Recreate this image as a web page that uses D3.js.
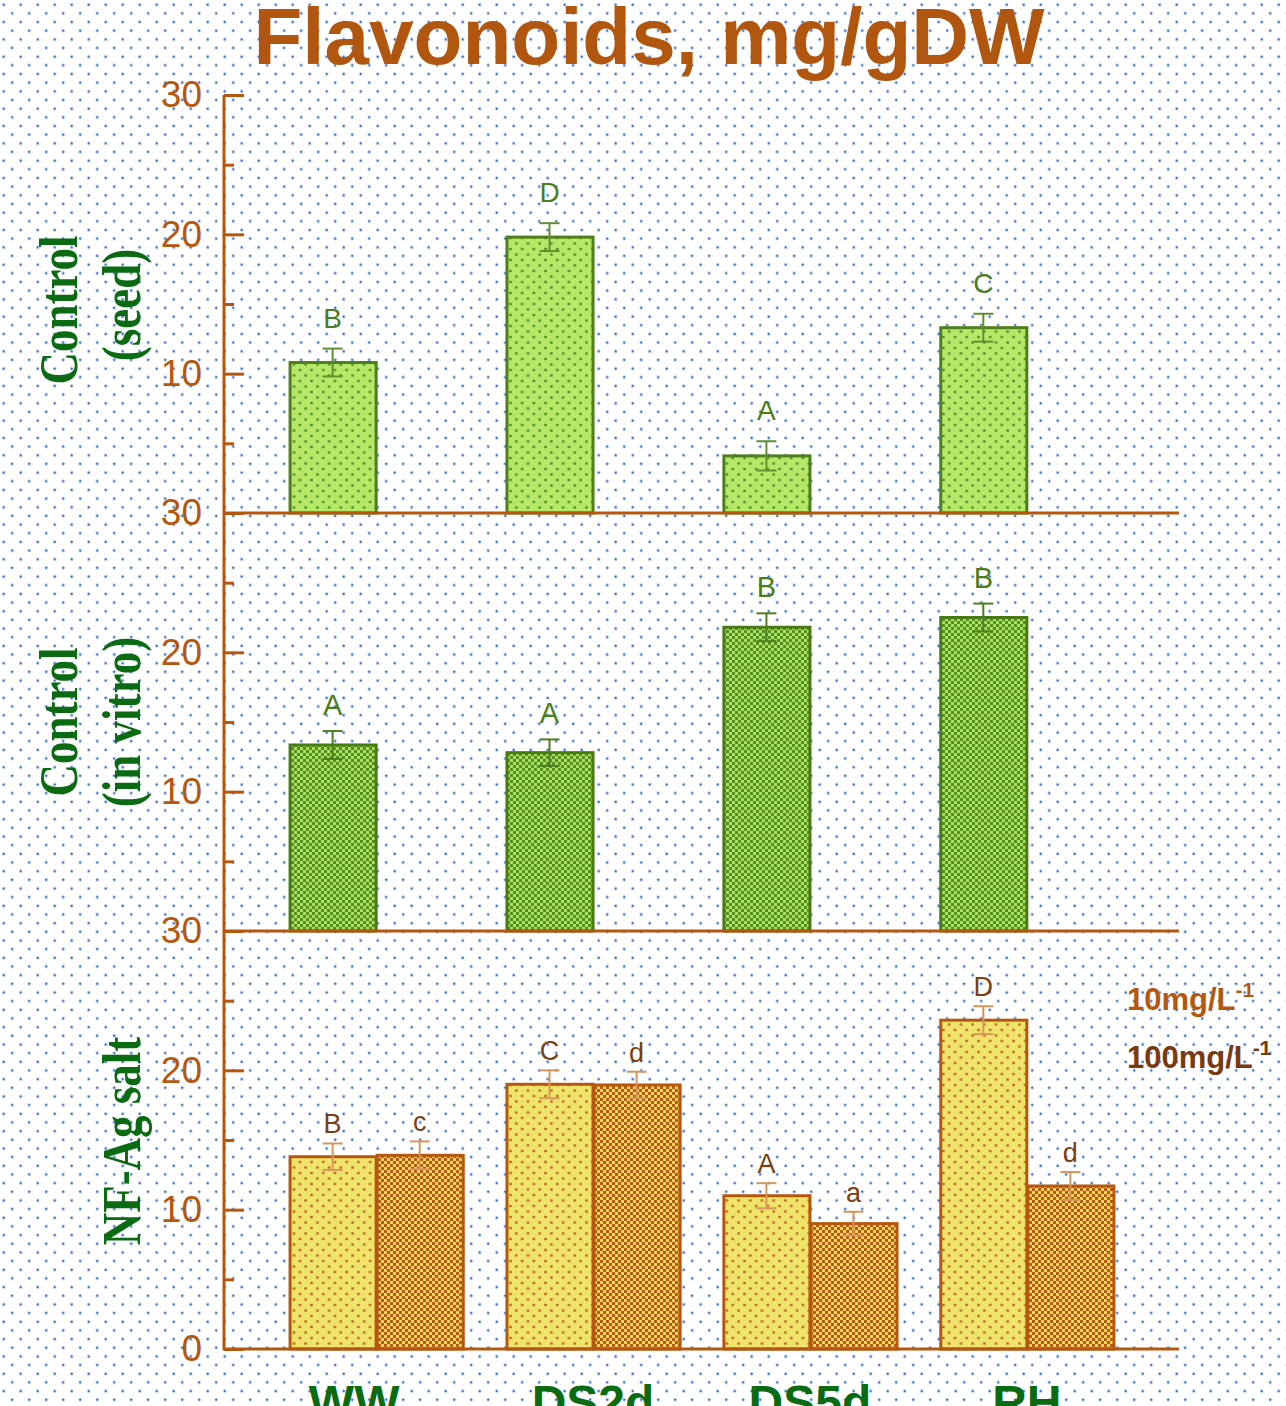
<!DOCTYPE html>
<html>
<head>
<meta charset="utf-8">
<script src="https://cdn.jsdelivr.net/npm/d3@7"></script>
<style>
  html, body { margin: 0; padding: 0; background: #ffffff; }
  svg { display: block; }
</style>
</head>
<body>
<svg id="chart" width="1286" height="1406"></svg>
<script>
// ---- data ----
const categories = ["WW", "DS2d", "DS5d", "RH"];

const seedValues  = [10.8, 19.8, 4.1, 13.3];
const seedErrors  = [1.0, 1.0, 1.05, 1.0];
const seedLetters = ["B", "D", "A", "C"];

const vitroValues  = [13.35, 12.8, 21.8, 22.5];
const vitroErrors  = [1.0, 0.95, 1.0, 1.0];
const vitroLetters = ["A", "A", "B", "B"];

const salt10Values   = [13.8, 19.0, 11.0, 23.6];
const salt10Errors   = [0.95, 1.0, 0.9, 1.0];
const salt10Letters  = ["B", "C", "A", "D"];
const salt100Values  = [13.9, 18.95, 9.0, 11.7];
const salt100Errors  = [1.0, 0.95, 0.85, 1.0];
const salt100Letters = ["c", "d", "a", "d"];

const doses = ["10mg/L", "100mg/L"];
const majorTicks = [0, 10, 20, 30];
const minorTicks = [5, 15, 25];
const titleText = "Flavonoids, mg/gDW";

// ---- layout ----
const svg = d3.select("#chart");
const W = 1286, H = 1406;
const axisX = 224, axisRight = 1179;
const panelTops = [95, 513, 931];
const panelH = 418;
const brown = "#b5580f";
const labelGreen = "#0b6b12";

const defs = svg.append("defs");

// dotted page background
const bg = defs.append("pattern").attr("id", "bgDots")
  .attr("patternUnits", "userSpaceOnUse").attr("width", 17).attr("height", 17.33);
bg.append("rect").attr("width", 17).attr("height", 17.33).attr("fill", "#ffffff");
[[3.7, 4.7], [12.2, 13.3]].forEach(([cx, cy]) => {
  bg.append("circle").attr("cx", cx).attr("cy", cy).attr("r", 1.9).attr("fill", "#c9d7f2");
  bg.append("circle").attr("cx", cx).attr("cy", cy).attr("r", 1.1).attr("fill", "#3a6bc8");
});

// dotted bar fill
function dotPattern(id, base, dot) {
  const p = defs.append("pattern").attr("id", id)
    .attr("patternUnits", "userSpaceOnUse").attr("width", 11.7).attr("height", 11);
  p.append("rect").attr("width", 11.7).attr("height", 11).attr("fill", base);
  [[1.5, 1.5], [7.35, 7]].forEach(([x, y]) => {
    p.append("rect").attr("x", x - 1.2).attr("y", y - 1.2)
      .attr("width", 2.4).attr("height", 2.4).attr("fill", dot);
  });
}
// fine checker bar fill
function checkerPattern(id, light, dark) {
  const p = defs.append("pattern").attr("id", id)
    .attr("patternUnits", "userSpaceOnUse").attr("width", 6).attr("height", 6);
  p.append("rect").attr("width", 6).attr("height", 6).attr("fill", light);
  p.append("rect").attr("x", 0).attr("y", 0).attr("width", 3).attr("height", 3).attr("fill", dark);
  p.append("rect").attr("x", 3).attr("y", 3).attr("width", 3).attr("height", 3).attr("fill", dark);
}
dotPattern("seedFill", "#b6e868", "#4d8a22");
checkerPattern("vitroFill", "#acdf62", "#53901f");
dotPattern("salt10Fill", "#efe46a", "#c0621a");
checkerPattern("salt100Fill", "#ecd860", "#b85a12");

svg.append("rect").attr("width", W).attr("height", H).attr("fill", "url(#bgDots)");

// ---- scales ----
const x = d3.scaleBand().domain(categories)
  .range([axisX, axisRight]).paddingInner(0.197).paddingOuter(0.3);
const xDose = d3.scaleBand().domain(doses).range([0, x.bandwidth()]);

const panels = [
  { label: ["Control", "(seed)"], labelY: [310, 305], letterGap: 21, letterSize: 28,
    series: [{ dose: doses[0], values: seedValues, errors: seedErrors, letters: seedLetters,
      fill: "url(#seedFill)", stroke: "#4f7f1c", err: "#5f8f2f", letterColor: "#4b7d1b" }] },
  { label: ["Control", "(in vitro)"], labelY: [722, 722], letterGap: 16, letterSize: 29,
    series: [{ dose: doses[0], values: vitroValues, errors: vitroErrors, letters: vitroLetters,
      fill: "url(#vitroFill)", stroke: "#4a7a14", err: "#4e7e1e", letterColor: "#4b7d1b" }] },
  { label: ["NF-Ag salt"], labelY: [1141], letterGap: 10, letterSize: 27,
    series: [
      { dose: doses[0], values: salt10Values, errors: salt10Errors, letters: salt10Letters,
        fill: "url(#salt10Fill)", stroke: brown, err: "#d7955a", letterColor: "#7a3f12" },
      { dose: doses[1], values: salt100Values, errors: salt100Errors, letters: salt100Letters,
        fill: "url(#salt100Fill)", stroke: brown, err: "#d7955a", letterColor: "#7a3f12" }
    ] }
];

panels.forEach((panel, pi) => {
  const top = panelTops[pi];
  const y = d3.scaleLinear().domain([0, 30]).range([top + panelH, top]);
  const g = svg.append("g");

  panel.series.forEach(s => {
    const rows = categories.map((c, i) => ({ c, v: s.values[i], e: s.errors[i], l: s.letters[i] }));
    const bx = d => x(d.c) + xDose(s.dose);
    const bw = xDose.bandwidth();

    g.selectAll(null).data(rows).join("rect")
      .attr("x", d => bx(d) + 1)
      .attr("y", d => y(d.v))
      .attr("width", bw - 1)
      .attr("height", d => y(0) - y(d.v))
      .attr("fill", s.fill)
      .attr("stroke", s.stroke).attr("stroke-width", 3);

    const eg = g.selectAll(null).data(rows).join("g")
      .attr("stroke", s.err).attr("stroke-width", 2).attr("fill", "none");
    eg.append("line")
      .attr("x1", d => bx(d) + bw / 2).attr("x2", d => bx(d) + bw / 2)
      .attr("y1", d => y(d.v + d.e)).attr("y2", d => y(d.v - d.e));
    eg.append("line")
      .attr("x1", d => bx(d) + bw / 2 - 10).attr("x2", d => bx(d) + bw / 2 + 10)
      .attr("y1", d => y(d.v + d.e)).attr("y2", d => y(d.v + d.e));
    eg.append("line")
      .attr("x1", d => bx(d) + bw / 2 - 10).attr("x2", d => bx(d) + bw / 2 + 10)
      .attr("y1", d => y(d.v - d.e)).attr("y2", d => y(d.v - d.e));

    g.selectAll(null).data(rows).join("text")
      .attr("x", d => bx(d) + bw / 2)
      .attr("y", d => y(d.v + d.e) - panel.letterGap)
      .attr("text-anchor", "middle")
      .attr("font-family", "Liberation Sans, Arial, sans-serif")
      .attr("font-size", panel.letterSize)
      .attr("fill", s.letterColor)
      .text(d => d.l);
  });

  // y axis: major and minor ticks point into the plot
  const ticks = pi === 2 ? majorTicks : majorTicks.filter(t => t > 0);
  const ax = svg.append("g").attr("transform", `translate(${axisX},0)`)
    .call(d3.axisLeft(y).tickValues(ticks).tickSizeInner(-20).tickSizeOuter(0).tickPadding(22));
  ax.select(".domain").remove();
  ax.selectAll(".tick line").attr("stroke", brown).attr("stroke-width", 3);
  ax.selectAll(".tick text").attr("fill", brown)
    .attr("font-family", "Liberation Sans, Arial, sans-serif").attr("font-size", 37);

  const mx = svg.append("g").attr("transform", `translate(${axisX},0)`)
    .call(d3.axisLeft(y).tickValues(minorTicks).tickSizeInner(-10).tickSizeOuter(0).tickFormat(""));
  mx.select(".domain").remove();
  mx.selectAll(".tick line").attr("stroke", brown).attr("stroke-width", 3);

  // baseline of the panel
  svg.append("line").attr("x1", axisX).attr("x2", axisRight)
    .attr("y1", y(0)).attr("y2", y(0))
    .attr("stroke", brown).attr("stroke-width", 3);

  // rotated panel title
  const lx = panel.label.length === 2 ? [77, 140] : [140];
  panel.label.forEach((t, li) => {
    svg.append("text")
      .attr("transform", `translate(${lx[li]},${panel.labelY[li]}) rotate(-90) scale(1,1.22)`)
      .attr("text-anchor", "middle")
      .attr("font-family", "Liberation Serif, Times New Roman, serif")
      .attr("font-weight", "bold").attr("font-size", 45)
      .attr("fill", labelGreen)
      .text(t);
  });
});

// continuous y axis line
svg.append("line").attr("x1", axisX).attr("x2", axisX)
  .attr("y1", panelTops[0]).attr("y2", panelTops[2] + panelH + 1.5)
  .attr("stroke", brown).attr("stroke-width", 3);

// category labels along the bottom edge
const labelNudge = { WW: -22 };
svg.selectAll(null).data(categories).join("text")
  .attr("x", d => x(d) + x.bandwidth() / 2 + (labelNudge[d] || 0))
  .attr("y", 1419)
  .attr("text-anchor", "middle")
  .attr("font-family", "Liberation Sans, Arial, sans-serif")
  .attr("font-weight", "bold").attr("font-size", 48)
  .attr("fill", labelGreen)
  .text(d => d);

// dose legend
const legendColors = [brown, "#7a3a10"];
doses.forEach((d, i) => {
  const t = svg.append("text")
    .attr("x", 1127).attr("y", 1010 + i * 58)
    .attr("font-family", "Liberation Sans, Arial, sans-serif")
    .attr("font-weight", "bold").attr("font-size", 31)
    .attr("fill", legendColors[i]);
  t.append("tspan").text(d);
  t.append("tspan").attr("font-size", 21).attr("dy", -13).text("-1");
});

// chart title
svg.append("text")
  .attr("x", 649).attr("y", 64)
  .attr("text-anchor", "middle")
  .attr("font-family", "Liberation Sans, Arial, sans-serif")
  .attr("font-weight", "bold").attr("font-size", 80)
  .attr("fill", "#b0560e")
  .text(titleText);
</script>
</body>
</html>
